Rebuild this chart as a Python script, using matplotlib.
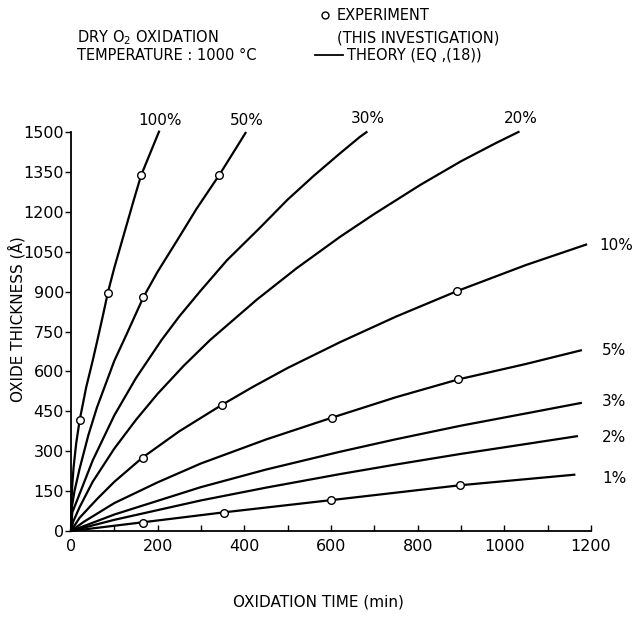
import matplotlib
matplotlib.use("Agg")
import matplotlib.pyplot as plt
from matplotlib.lines import Line2D
from matplotlib.ticker import MultipleLocator

# ---- data ----
curve_labels = ["100%", "50%", "30%", "20%", "10%", "5%", "3%", "2%", "1%"]

t_100 = [0, 1, 3, 6, 12, 20, 35, 50, 61, 75, 85, 100, 115, 130, 145, 162, 204]
x_100 = [0, 110, 175, 240, 330, 417, 540, 640, 718, 820, 896, 990, 1075, 1160,
         1245, 1338, 1505]

t_50 = [0, 2, 8, 20, 40, 60, 100, 129, 167, 200, 244, 290, 342, 380, 404]
x_50 = [0, 90, 150, 235, 360, 465, 640, 742, 879, 975, 1090, 1212, 1338, 1437, 1500]

t_30 = [0, 3, 20, 50, 100, 150, 209, 250, 300, 360, 436, 500, 560, 621, 667, 684]
x_30 = [0, 70, 140, 265, 435, 575, 718, 807, 905, 1018, 1140, 1246, 1335, 1420,
        1482, 1502]

t_20 = [0, 5, 20, 50, 100, 150, 200, 260, 321, 429, 520, 621, 700, 806, 900, 980, 1035]
x_20 = [0, 35, 90, 185, 310, 418, 516, 621, 718, 870, 987, 1106, 1192, 1301, 1390,
        1458, 1502]

t_10 = [0, 20, 60, 100, 165, 250, 348, 420, 500, 621, 750, 891, 1050, 1191]
x_10 = [0, 50, 120, 185, 276, 375, 474, 542, 613, 710, 806, 902, 1000, 1078]

t_5 = [0, 30, 100, 200, 300, 450, 602, 750, 894, 1050, 1179]
x_5 = [0, 35, 105, 183, 254, 344, 426, 503, 570, 628, 680]

t_3 = [0, 100, 300, 450, 621, 750, 900, 1050, 1179]
x_3 = [0, 62, 165, 231, 298, 345, 396, 442, 482]

t_2 = [0, 100, 300, 450, 621, 750, 900, 1050, 1170]
x_2 = [0, 42, 115, 163, 214, 250, 290, 327, 357]

t_1 = [0, 167, 352, 600, 898, 1164]
x_1 = [0, 33, 70, 116, 172, 212]

# experimental points
exp_t = [20, 85, 162, 167, 342, 165, 348, 891, 602, 894, 167, 352, 600, 898]
exp_x = [417, 896, 1338, 879, 1338, 276, 474, 902, 426, 572, 31, 69, 115, 173]

# label anchor positions (time, thickness)
lab_t = [205, 406, 686, 1039, 1219, 1226, 1226, 1226, 1226]
lab_x = [1545, 1545, 1549, 1549, 1075, 677, 485, 353, 199]

xticks = [0, 200, 400, 600, 800, 1000, 1200]
yticks = [0, 150, 300, 450, 600, 750, 900, 1050, 1200, 1350, 1500]

plt.rcParams["mathtext.default"] = "regular"
plt.rcParams["font.family"] = ["DejaVu Sans"]

fig = plt.figure(figsize=(6.36, 6.17), dpi=100)
ax = fig.add_axes([71 / 636, 86 / 617, 520 / 636, 399 / 617])

curves = [(t_100, x_100), (t_50, x_50), (t_30, x_30), (t_20, x_20),
          (t_10, x_10), (t_5, x_5), (t_3, x_3), (t_2, x_2), (t_1, x_1)]
for (tt, xx) in curves:
    ax.plot(tt, xx, color="black", lw=1.6, solid_capstyle="butt",
            solid_joinstyle="round", clip_on=False)

ax.plot(exp_t, exp_x, linestyle="none", marker="o", markersize=5.5,
        markerfacecolor="white", markeredgecolor="black", markeredgewidth=1.0,
        clip_on=False, zorder=5)

for lbl, lt, lx in zip(curve_labels, lab_t, lab_x):
    ha = "center" if lx > 1500 else "left"
    ax.text(lt, lx, lbl, ha=ha, va="center", fontsize=11, clip_on=False)

ax.set_xlim(0, 1200)
ax.set_ylim(0, 1500)
ax.set_xticks(xticks)
ax.xaxis.set_minor_locator(MultipleLocator(100))
ax.set_yticks(yticks)
for s in ["top", "right"]:
    ax.spines[s].set_visible(False)
for s in ["left", "bottom"]:
    ax.spines[s].set_linewidth(1.3)
ax.tick_params(axis="x", which="both", direction="in", length=4, width=1.0,
               pad=6, labelsize=11.5)
ax.tick_params(axis="y", which="both", direction="out", length=4, width=1.0,
               pad=1, labelsize=11.5)

ax.set_xlabel("OXIDATION TIME (min)", fontsize=11)
ax.xaxis.set_label_coords(0.475, -0.160)
ax.set_ylabel("OXIDE THICKNESS (Å)", fontsize=11)
ax.yaxis.set_label_coords(-0.088, 0.531)

# header texts
fig.text(77 / 636, 1 - 38 / 617, "DRY O$_2$ OXIDATION", fontsize=10.5,
         ha="left", va="center")
fig.text(77 / 636, 1 - 55 / 617, "TEMPERATURE : 1000 °C", fontsize=10.5,
         ha="left", va="center")
fig.add_artist(Line2D([325 / 636], [1 - 15 / 617], transform=fig.transFigure,
                      marker="o", markersize=5, markerfacecolor="white",
                      markeredgecolor="black", markeredgewidth=1.0,
                      linestyle="none"))
fig.text(337 / 636, 1 - 16 / 617, "EXPERIMENT", fontsize=10.5,
         ha="left", va="center")
fig.text(337 / 636, 1 - 38 / 617, "(THIS INVESTIGATION)", fontsize=10.5,
         ha="left", va="center")
fig.add_artist(Line2D([315 / 636, 343 / 636], [1 - 55 / 617, 1 - 55 / 617],
                      transform=fig.transFigure, color="black", lw=1.3))
fig.text(347 / 636, 1 - 55 / 617, "THEORY (EQ ,(18))", fontsize=10.5,
         ha="left", va="center")

fig.savefig("out.png", dpi=100)
